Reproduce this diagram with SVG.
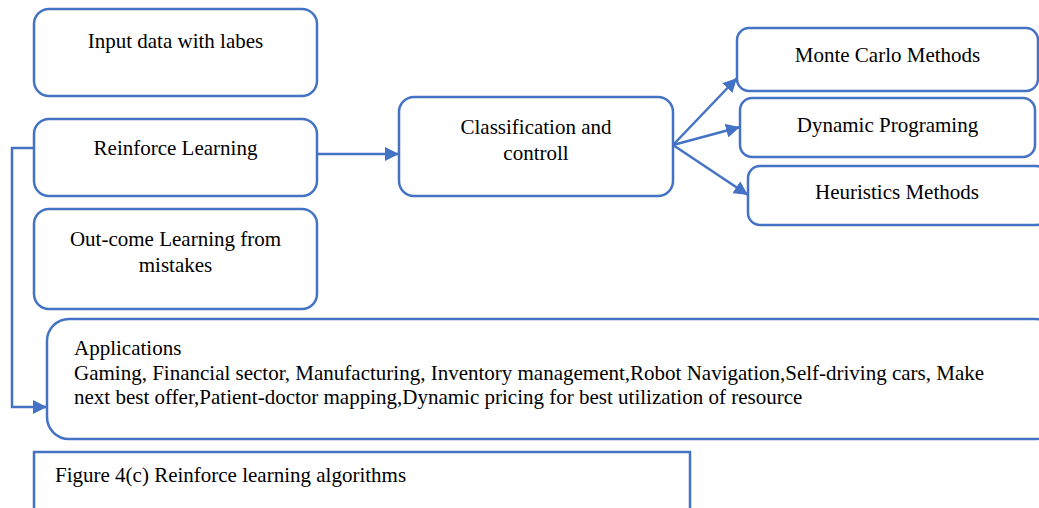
<svg xmlns="http://www.w3.org/2000/svg" width="1039" height="508" viewBox="0 0 1039 508">
<style>
.box{fill:#fff;stroke:#4472C4;stroke-width:2.5}
.t{font-family:"Liberation Serif","Times New Roman",serif;font-size:21px;fill:#000}
.c{text-anchor:middle}
.ln{fill:none;stroke:#4472C4;stroke-width:2.5}
</style>
<defs>
<marker id="ah" markerUnits="userSpaceOnUse" markerWidth="16" markerHeight="14" refX="14" refY="7" orient="auto">
<path d="M0,0 L14,7 L0,14 Z" fill="#4472C4"/>
</marker>
</defs>
<rect width="1039" height="508" fill="#fff"/>
<g id="connectors">
<line class="ln" x1="317" y1="154" x2="399" y2="154" marker-end="url(#ah)"/>
<line class="ln" x1="673" y1="145" x2="737" y2="78" marker-end="url(#ah)"/>
<line class="ln" x1="673" y1="145" x2="740" y2="127" marker-end="url(#ah)"/>
<line class="ln" x1="673" y1="145" x2="748" y2="195" marker-end="url(#ah)"/>
<polyline class="ln" points="34,148 12,148 12,407 47,407" marker-end="url(#ah)"/>
</g>
<g id="input">
<rect class="box" x="34" y="9" width="283" height="87" rx="15"/>
<text class="t c" x="175.5" y="48">Input data with labes</text>
</g>
<g id="reinforce">
<rect class="box" x="34" y="119" width="283" height="77" rx="15"/>
<text class="t c" x="175.5" y="155">Reinforce Learning</text>
</g>
<g id="outcome">
<rect class="box" x="34" y="209" width="283" height="100" rx="15"/>
<text class="t c" x="175.5" y="246">Out-come Learning from</text>
<text class="t c" x="175.5" y="272">mistakes</text>
</g>
<g id="classification">
<rect class="box" x="399" y="97" width="274" height="99" rx="15"/>
<text class="t c" x="536" y="134">Classification and</text>
<text class="t c" x="536" y="160">controll</text>
</g>
<g id="montecarlo">
<rect class="box" x="737" y="28" width="301" height="63" rx="12"/>
<text class="t c" x="887.5" y="62">Monte Carlo Methods</text>
</g>
<g id="dynamic">
<rect class="box" x="740" y="98" width="295" height="59" rx="12"/>
<text class="t c" x="887.5" y="132">Dynamic Programing</text>
</g>
<g id="heuristics">
<rect class="box" x="748" y="166" width="300" height="59" rx="12"/>
<text class="t c" x="897" y="199">Heuristics Methods</text>
</g>
<g id="applications">
<rect class="box" x="47" y="319" width="1010" height="120" rx="22"/>
<text class="t" x="74" y="355">Applications</text>
<text class="t" x="74" y="380">Gaming, Financial sector, Manufacturing, Inventory management,Robot Navigation,Self-driving cars, Make</text>
<text class="t" x="74" y="404">next best offer,Patient-doctor mapping,Dynamic pricing for best utilization of resource</text>
</g>
<g id="caption">
<rect class="box" x="34" y="452" width="656" height="70"/>
<text class="t" x="55" y="482">Figure 4(c) Reinforce learning algorithms</text>
</g>
</svg>
